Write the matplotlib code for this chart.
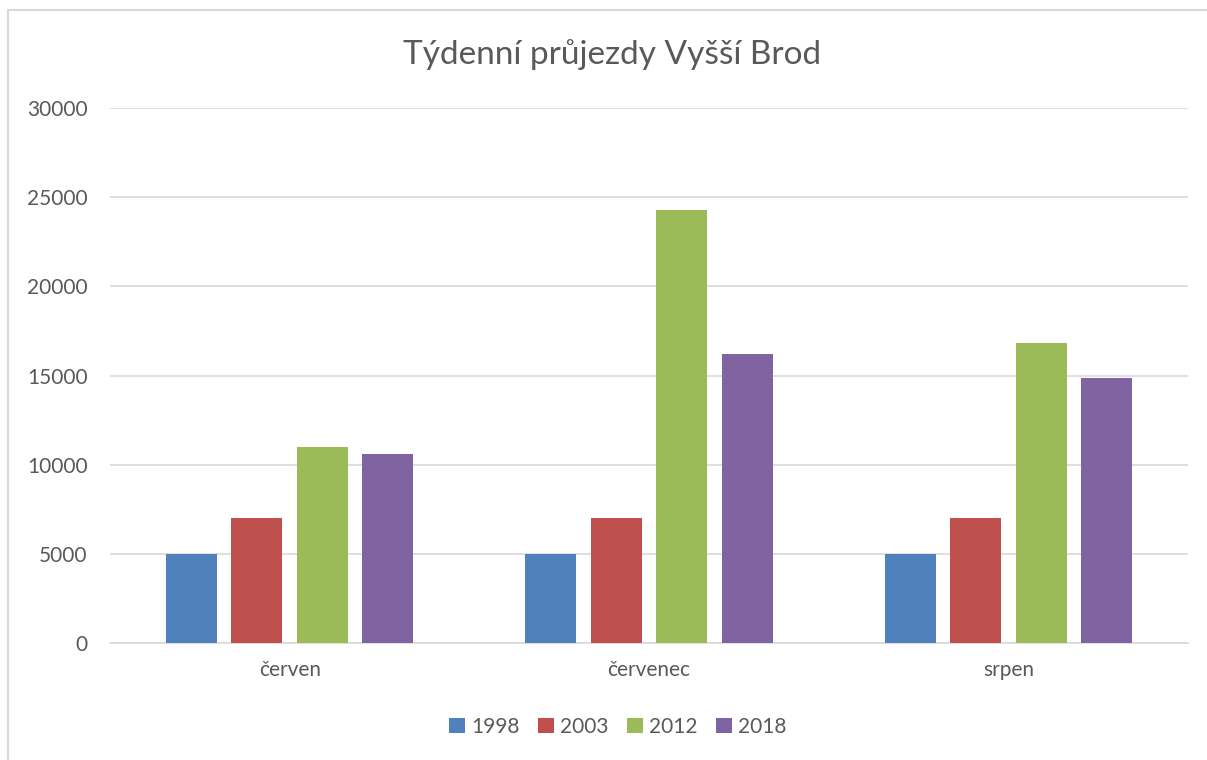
import numpy as np
import matplotlib.pyplot as plt
from matplotlib.patches import Rectangle

# data
mesice = ["červen", "červenec", "srpen"]
roky = ["1998", "2003", "2012", "2018"]
hodnoty_1998 = [5000, 5000, 5000]
hodnoty_2003 = [7000, 7000, 7000]
hodnoty_2012 = [11000, 24300, 16800]
hodnoty_2018 = [10600, 16200, 14850]
barvy = ["#4f81bd", "#c0504d", "#9bbb59", "#8064a2"]

plt.rcParams['font.family'] = ['Lato', 'DejaVu Sans']
txt = "#595959"

fig = plt.figure(figsize=(12.07, 7.6), dpi=100)
ax = fig.add_axes([110/1207, 1-643/760, (1188-110)/1207, (643-108)/760])

x = np.arange(len(mesice))
w = 0.142
krok = 0.182
serie = [hodnoty_1998, hodnoty_2003, hodnoty_2012, hodnoty_2018]
for i, (rok, vals, c) in enumerate(zip(roky, serie, barvy)):
    ax.bar(x + (i - 1.5)*krok, vals, width=w, color=c, label=rok, zorder=3)

ax.set_xlim(-0.5, 2.5)
ax.set_ylim(0, 30000)
ax.set_yticks(np.arange(0, 30001, 5000))
ax.set_xticks(x)
ax.set_xticklabels(mesice)
ax.yaxis.grid(True, color="#d9d9d9", linewidth=1.2, zorder=0)
for s in ["top", "right", "left"]:
    ax.spines[s].set_visible(False)
ax.spines["bottom"].set_color("#d9d9d9")
ax.spines["bottom"].set_linewidth(1.2)
ax.tick_params(axis="both", length=0, colors=txt, labelsize=15)
ax.tick_params(axis="y", pad=16)
ax.tick_params(axis="x", pad=12)

fig.text(0.5075, 1-55/760, "Týdenní průjezdy Vyšší Brod", ha="center", va="center",
         fontsize=24, color=txt)

fig.legend(loc="center", bbox_to_anchor=(0.512, 1-727/760), ncol=4, frameon=False,
           fontsize=15, labelcolor=txt, handlelength=0.75, handleheight=0.75,
           handletextpad=0.3, columnspacing=0.9)

fig.patches.append(Rectangle((8/1207, -0.1), 1.2, 1-10/760+0.1, transform=fig.transFigure,
                             fill=False, edgecolor="#d9d9d9", linewidth=1.5))

fig.savefig("out.png", dpi=100)
